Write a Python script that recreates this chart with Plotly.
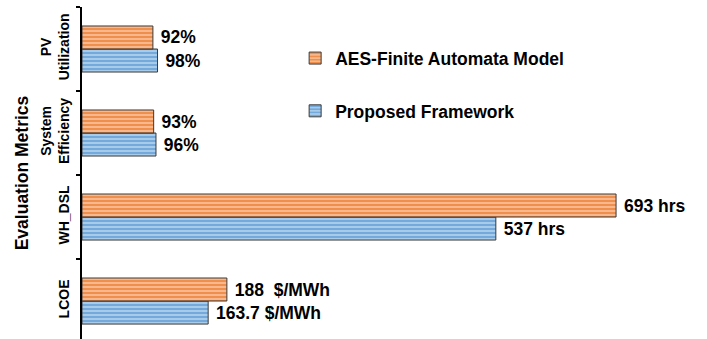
import plotly.graph_objects as go

# Evaluation metrics, listed bottom to top as they appear on the axis
metrics = ["LCOE", "WH_DSL", "System<br>Efficiency", "PV<br>Utilization"]

aes_values = [188, 693, 93, 92]
aes_labels = ["188  $/MWh", "693 hrs", "93%", "92%"]

proposed_values = [163.7, 537, 96, 98]
proposed_labels = ["163.7 $/MWh", "537 hrs", "96%", "98%"]

FONT = "Arial, Liberation Sans, sans-serif"
LABEL_FONT = dict(family=FONT, size=17.5, color="black", weight="bold")

fig = go.Figure()

# Proposed framework goes first so it sits below the AES bar in each group
fig.add_trace(go.Bar(
    name="<b>Proposed Framework</b>",
    y=metrics, x=proposed_values, orientation="h",
    text=[" " + t for t in proposed_labels], textposition="outside",
    constraintext="none", cliponaxis=False,
    textfont=LABEL_FONT,
    marker=dict(
        color="#9DC3E6",
        line=dict(color="#3a3a3a", width=1),
        pattern=dict(shape="-", fgcolor="#5B9BD5", bgcolor="#A9CBEA",
                     size=4, solidity=0.35, fillmode="replace"),
    ),
    legendgroup="b", legendrank=2,
))
fig.add_trace(go.Bar(
    name="<b>AES-Finite Automata Model</b>",
    y=metrics, x=aes_values, orientation="h",
    text=[" " + t for t in aes_labels], textposition="outside",
    constraintext="none", cliponaxis=False,
    textfont=LABEL_FONT,
    marker=dict(
        color="#F4A772",
        line=dict(color="#3a3a3a", width=1),
        pattern=dict(shape="-", fgcolor="#ED7D31", bgcolor="#F6B88C",
                     size=4, solidity=0.35, fillmode="replace"),
    ),
    legendgroup="a", legendrank=1,
))

yrange = [-0.452, 3.5]

fig.update_layout(
    width=707, height=339,
    margin=dict(l=82, r=0, t=7, b=0),
    paper_bgcolor="white", plot_bgcolor="white",
    barmode="group", bargap=0.452, bargroupgap=0,
    font=dict(family=FONT, color="black"),
    showlegend=True,
    legend=dict(
        x=0.341, y=0.90, xanchor="left", yanchor="top",
        font=dict(family=FONT, size=17.5, color="black", weight="bold"),
        tracegroupgap=27, itemwidth=30,
        bgcolor="rgba(0,0,0,0)",
    ),
    xaxis=dict(visible=False, range=[0, 811]),
    yaxis=dict(
        type="category", categoryorder="array", categoryarray=metrics,
        range=yrange,
        showline=True, linecolor="black", linewidth=2,
        ticks="outside", tickson="boundaries", ticklen=4,
        tickwidth=2, tickcolor="black",
        tickangle=-90, ticklabelstandoff=5,
        tickfont=dict(family=FONT, size=14, color="black", weight="bold"),
        showgrid=False, zeroline=False,
        title=dict(text="<b>Evaluation Metrics</b>", standoff=5,
                   font=dict(family=FONT, size=17.5, color="black")),
    ),
    yaxis2=dict(
        overlaying="y", side="left", range=yrange,
        tickmode="array", tickvals=[-0.5, 0.5, 1.5, 2.5, 3.5],
        ticks="inside", ticklen=4, tickwidth=2, tickcolor="black",
        showticklabels=False, showgrid=False, zeroline=False, showline=False,
    ),
)

fig.write_html("out.html")
